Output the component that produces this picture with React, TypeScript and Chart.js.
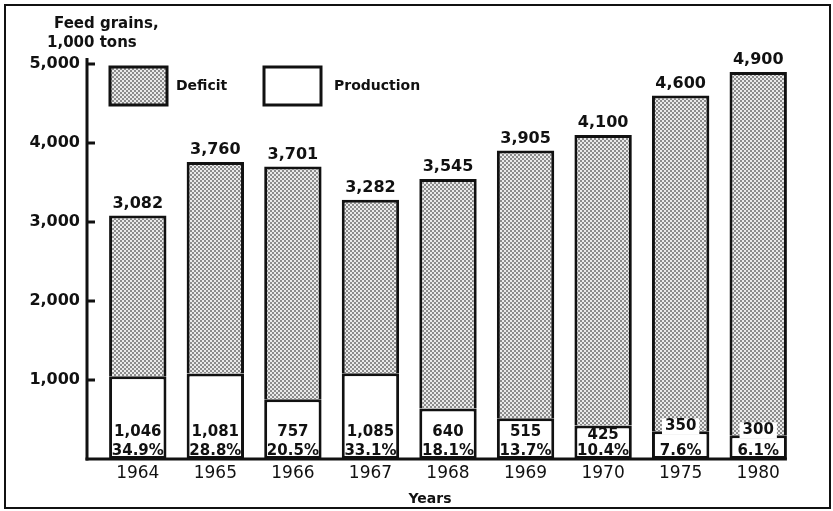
import React, { useEffect, useRef } from "react";
import { Chart, registerables } from "chart.js";

Chart.register(...registerables);

const years = ["1964", "1965", "1966", "1967", "1968", "1969", "1970", "1975", "1980"];
const totals = [3082, 3760, 3701, 3282, 3545, 3905, 4100, 4600, 4900];
const production = [1046, 1081, 757, 1085, 640, 515, 425, 350, 300];
const shares = ["34.9%", "28.8%", "20.5%", "33.1%", "18.1%", "13.7%", "10.4%", "7.6%", "6.1%"];
const yTicks = [0, 1000, 2000, 3000, 4000, 5000];
const deficit = totals.map((t, i) => t - production[i]);

const FONT = '"DejaVu Sans", sans-serif';

function makePattern(): CanvasPattern | string {
  const c = document.createElement("canvas");
  c.width = 4;
  c.height = 4;
  const g = c.getContext("2d");
  if (!g) return "#aaa";
  g.fillStyle = "#eaeaea";
  g.fillRect(0, 0, 4, 4);
  g.fillStyle = "#8c8c8c";
  g.fillRect(0, 0, 2, 2);
  g.fillRect(2, 2, 2, 2);
  const p = g.createPattern(c, "repeat");
  return p || "#aaa";
}

const fmt = (v: number) => v.toLocaleString("en-US");

export default function App() {
  const ref = useRef<HTMLCanvasElement | null>(null);

  useEffect(() => {
    if (!ref.current) return;
    const pattern = makePattern();

    const decor = {
      id: "decor",
      beforeDraw(chart: any) {
        const ctx = chart.ctx;
        ctx.save();
        ctx.fillStyle = "#fff";
        ctx.fillRect(0, 0, chart.width, chart.height);
        ctx.restore();
      },
      afterDatasetsDraw(chart: any) {
        const ctx = chart.ctx;
        const ya = chart.scales.y;
        const area = chart.chartArea;
        const axisX = area.left - 12;
        const zeroY = ya.getPixelForValue(0);
        const metaP = chart.getDatasetMeta(0);
        const metaD = chart.getDatasetMeta(1);
        ctx.save();
        // frame
        ctx.strokeStyle = "#111";
        ctx.lineWidth = 2;
        ctx.strokeRect(5, 5, 825, 503);
        // y axis line
        ctx.lineWidth = 3;
        ctx.beginPath();
        ctx.moveTo(axisX, ya.getPixelForValue(5000) - 6);
        ctx.lineTo(axisX, zeroY + 1.5);
        ctx.stroke();
        // y ticks
        yTicks.forEach((v) => {
          if (v === 0) return;
          const py = ya.getPixelForValue(v);
          ctx.beginPath();
          ctx.moveTo(axisX, py);
          ctx.lineTo(axisX + 8, py);
          ctx.stroke();
        });
        // x axis line
        const last = metaP.data[metaP.data.length - 1];
        ctx.beginPath();
        ctx.moveTo(axisX - 1.5, zeroY);
        ctx.lineTo(last.x + last.width / 2, zeroY);
        ctx.stroke();

        // labels
        ctx.textAlign = "center";
        ctx.textBaseline = "middle";
        years.forEach((_, i) => {
          const pb = metaP.data[i];
          const db = metaD.data[i];
          ctx.font = `bold 16px ${FONT}`;
          ctx.fillStyle = "#111";
          ctx.fillText(fmt(totals[i]), db.x, db.y - 12);

          ctx.font = `bold 15px ${FONT}`;
          const txt = fmt(production[i]);
          let vy = Math.max(zeroY - 27, pb.y + 10);
          if (pb.y > zeroY - 32) {
            vy = pb.y - 5;
            const w = ctx.measureText(txt).width + 6;
            ctx.fillStyle = "#fff";
            ctx.fillRect(pb.x - w / 2, vy - 8, w, 16);
          }
          ctx.fillStyle = "#111";
          ctx.fillText(txt, pb.x, vy);
          ctx.fillText(shares[i], pb.x, zeroY - 8);
        });

        // legend
        const boxes = [
          { x: 110, label: "Deficit", fill: pattern, tx: 176 },
          { x: 264, label: "Production", fill: "#fff", tx: 334 },
        ];
        boxes.forEach((b) => {
          ctx.fillStyle = b.fill as any;
          ctx.fillRect(b.x, 67, 57, 38);
          ctx.lineWidth = 3;
          ctx.strokeStyle = "#111";
          ctx.strokeRect(b.x, 67, 57, 38);
          ctx.fillStyle = "#111";
          ctx.font = `bold 14px ${FONT}`;
          ctx.textAlign = "left";
          ctx.fillText(b.label, b.tx, 86);
        });

        // axis titles
        ctx.font = `bold 15px ${FONT}`;
        ctx.textAlign = "left";
        ctx.fillText("Feed grains,", 54, 24);
        ctx.fillText("1,000 tons", 47, 43);
        ctx.font = `bold 14px ${FONT}`;
        ctx.textAlign = "center";
        ctx.fillText("Years", 430, 499);
        ctx.restore();
      },
    };

    const chart = new Chart(ref.current, {
      type: "bar",
      data: {
        labels: years,
        datasets: [
          {
            label: "Production",
            data: production,
            backgroundColor: "#fff",
            borderColor: "#111",
            borderWidth: 3,
            borderSkipped: false,
          },
          {
            label: "Deficit",
            data: deficit,
            backgroundColor: pattern as any,
            borderColor: "#111",
            borderWidth: 3,
            borderSkipped: "bottom",
          },
        ],
      },
      options: {
        responsive: false,
        animation: false,
        layout: { padding: { top: 64, right: 36, bottom: 0, left: 0 } },
        datasets: { bar: { categoryPercentage: 1, barPercentage: 0.74 } },
        plugins: {
          legend: { display: false },
          tooltip: { enabled: false },
        },
        scales: {
          x: {
            stacked: true,
            grid: { display: false, drawTicks: false },
            border: { display: false },
            ticks: { color: "#111", font: { family: FONT, size: 17 }, padding: 4, maxRotation: 0 },
            afterFit(scale: any) {
              scale.height = 52;
            },
          },
          y: {
            stacked: true,
            min: 0,
            max: 5000,
            grid: { display: false, drawTicks: false },
            border: { display: false },
            afterBuildTicks(scale: any) {
              scale.ticks = yTicks.map((v) => ({ value: v }));
            },
            afterFit(scale: any) {
              scale.width = 99;
            },
            ticks: {
              color: "#111",
              padding: 19,
              font: { family: FONT, size: 16, weight: "bold" },
              callback: (v: any) => (Number(v) === 0 ? "" : fmt(Number(v))),
            },
          },
        },
      },
      plugins: [decor],
    });
    return () => chart.destroy();
  }, []);

  return (
    <div style={{ position: "fixed", left: 0, top: 0, width: 833, height: 511, background: "#fff" }}>
      <canvas ref={ref} width={833} height={511} style={{ display: "block" }} />
    </div>
  );
}
